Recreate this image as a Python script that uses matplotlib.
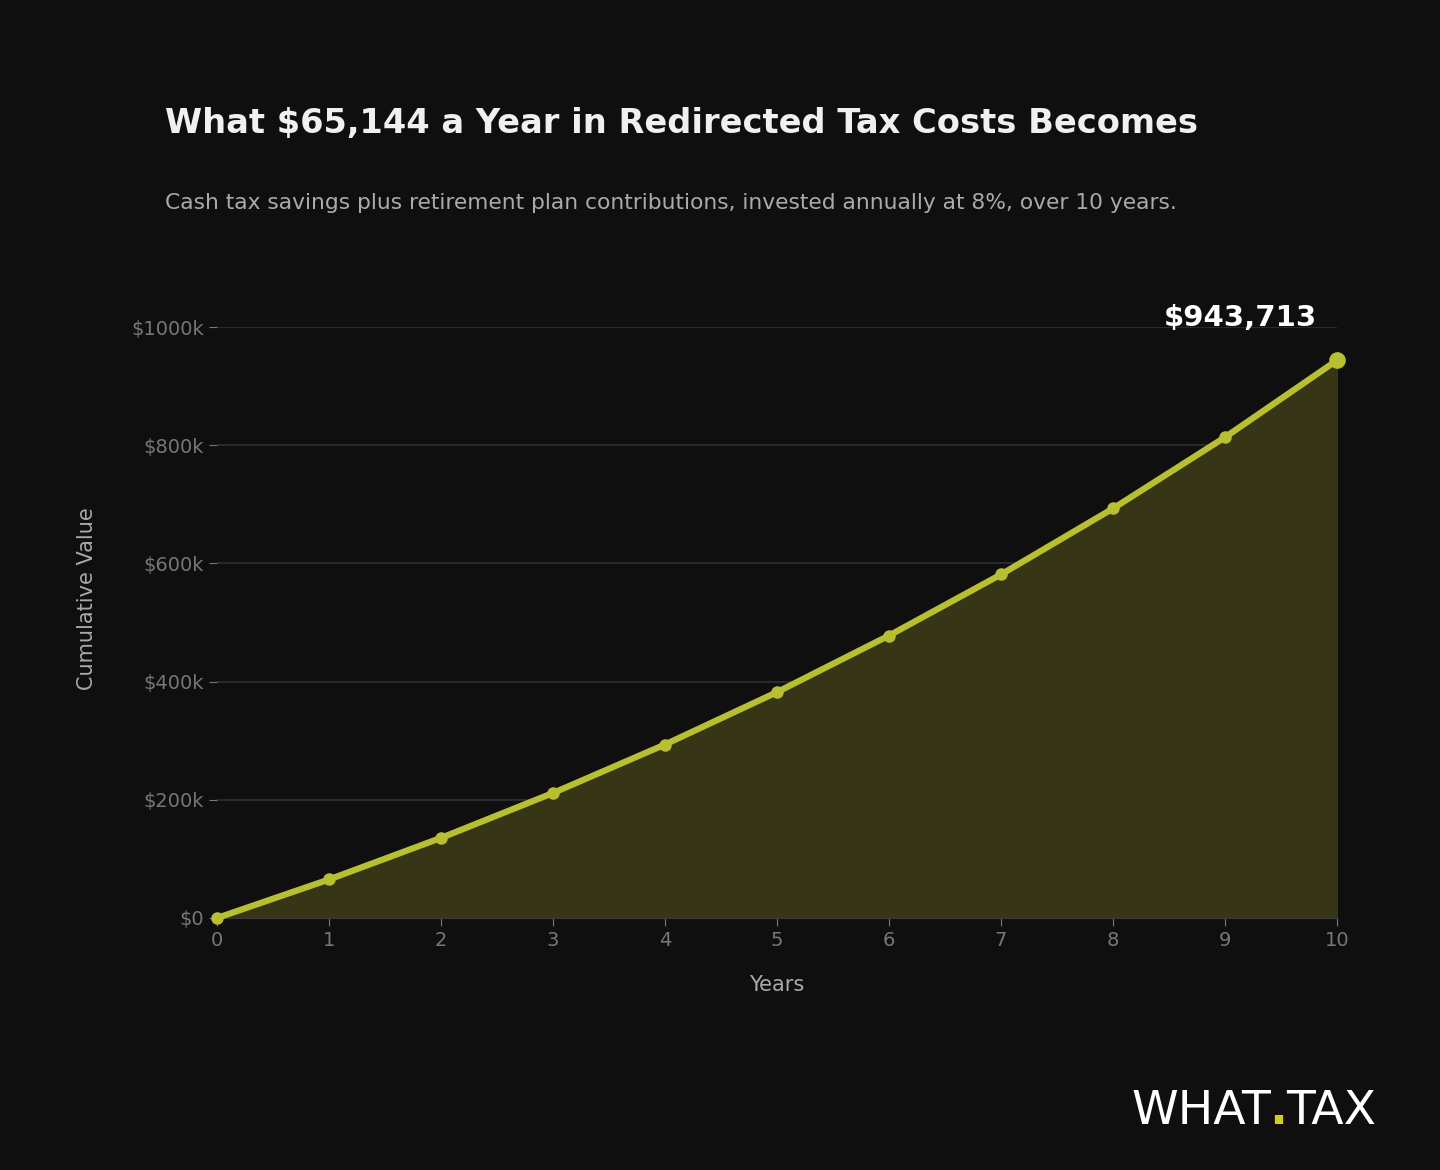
import matplotlib
matplotlib.use('Agg')
import matplotlib.pyplot as plt
from matplotlib.ticker import FuncFormatter

years = [0, 1, 2, 3, 4, 5, 6, 7, 8, 9, 10]
values = [0, 65144, 135500, 211484, 293547, 382175, 477893, 581269, 692914, 813492, 943713]
yticks = [0, 200000, 400000, 600000, 800000, 1000000]

BG = '#0f0f0f'
LINE = '#b8bf30'
FILL = '#363616'

fig = plt.figure(figsize=(14.4, 11.7), dpi=100, facecolor=BG)
ax = fig.add_axes([0.1507, 0.2154, 0.7778, 0.5051], facecolor=BG)

ax.fill_between(years, values, 0, color=FILL, zorder=1)
ax.plot(years, values, color=LINE, lw=4.5, marker='o', ms=8, zorder=3, clip_on=False)
ax.plot([years[-1]], [values[-1]], 'o', color=LINE, ms=11, zorder=4, clip_on=False)

ax.set_xlim(0, 10)
ax.set_ylim(0, 1000000)
ax.set_xticks(years)
ax.set_yticks(yticks)
ax.yaxis.set_major_formatter(FuncFormatter(lambda v, p: '$0' if v == 0 else f'${int(v/1000)}k'))
ax.grid(axis='y', color='#2a2a2a', lw=1.5)
ax.set_axisbelow(True)
for s in ['top', 'right', 'left']:
    ax.spines[s].set_visible(False)
ax.spines['bottom'].set_color('#3a3a3a')
ax.tick_params(colors='#777777', labelsize=14, length=6)
ax.set_xlabel('Years', color='#aaaaaa', fontsize=15, labelpad=18)
ax.set_ylabel('Cumulative Value', color='#aaaaaa', fontsize=15)
ax.yaxis.set_label_coords(-0.107, 0.54)

ax.text(years[-1] - 0.18, values[-1] + 48000, f'${values[-1]:,}', color='white',
        fontsize=21, fontweight='bold', ha='right', va='bottom')

fig.text(165/1440, 1 - 124/1170, 'What $65,144 a Year in Redirected Tax Costs Becomes',
         color='#f0f0f0', fontsize=24.2, fontweight='bold', va='center')
fig.text(165/1440, 1 - 203/1170,
         'Cash tax savings plus retirement plan contributions, invested annually at 8%, over 10 years.',
         color='#aaaaaa', fontsize=15.7, va='center')

# logo
fig.text(1271/1440, 1 - 1112/1170, 'WHAT', color='white', fontsize=34, ha='right', va='center')
fig.text(1278/1440, 1 - 1112/1170, '.', color='#d4cc1a', fontsize=34, fontweight='bold', ha='center', va='center')
fig.text(1286/1440, 1 - 1112/1170, 'TAX', color='white', fontsize=34, ha='left', va='center')

fig.savefig('out.png', dpi=100, facecolor=BG)
